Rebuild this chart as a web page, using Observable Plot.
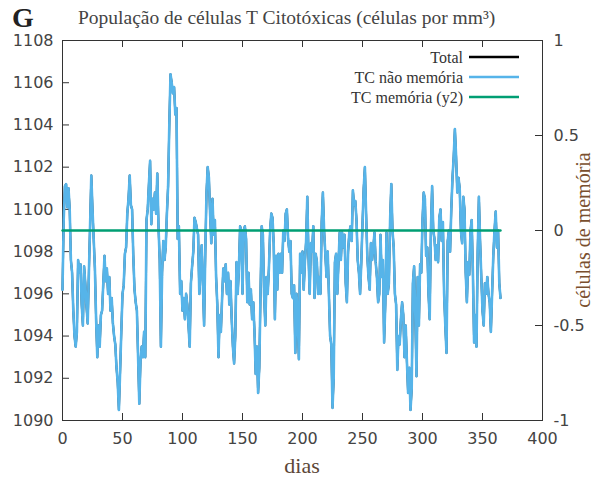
<!DOCTYPE html>
<html>
<head>
<meta charset="utf-8">
<script src="https://cdn.jsdelivr.net/npm/d3@7"></script>
<script src="https://cdn.jsdelivr.net/npm/@observablehq/plot@0.6"></script>
<style>
  html, body { margin: 0; padding: 0; background: #fff; }
</style>
</head>
<body>
<div id="chart"></div>
<script>
// ---- data ----
const panelLetter = "G";
const title = "População de células T Citotóxicas (células por mm³)";
const xLabel = "dias";
const y2Label = "células de memória";
const seriesNames = ["Total", "TC não memória", "TC memória (y2)"];
const seriesColors = ["#000000", "#56b4e9", "#009e73"];

// TC não memória: one value per day, days 0..365
const naoMemoria = [
1096.2,1099.5,1101.1,1101.2,1100.1,1101.0,1100.0,1097.6,1097.0,1095.2,
1094.0,1093.5,1094.2,1097.6,1097.0,1097.4,1095.5,1094.5,1097.3,1096.5,
1095.4,1094.6,1097.0,1099.3,1101.6,1100.0,1098.6,1097.2,1094.8,1093.0,
1094.5,1093.5,1095.0,1095.2,1096.5,1097.8,1096.6,1097.2,1096.0,1096.8,
1095.2,1095.8,1094.6,1094.0,1093.6,1092.5,1091.8,1090.5,1092.3,1094.2,
1096.0,1096.4,1097.9,1098.2,1099.8,1100.5,1101.6,1100.2,1100.0,1097.8,
1096.2,1095.6,1095.2,1093.0,1090.8,1092.8,1093.5,1093.0,1094.2,1093.0,
1099.5,1100.0,1101.2,1102.3,1099.3,1100.5,1100.0,1100.8,1099.8,1101.7,
1099.2,1097.6,1093.5,1097.0,1098.5,1097.6,1098.2,1099.8,1101.1,1104.0,
1106.4,1106.0,1105.5,1105.8,1104.5,1104.8,1098.6,1099.2,1096.0,1096.6,
1095.2,1095.8,1094.8,1096.0,1095.5,1094.5,1093.5,1096.5,1097.3,1098.0,
1099.6,1099.4,1099.1,1098.8,1096.0,1097.0,1098.3,1096.5,1094.5,1098.0,
1100.8,1102.0,1101.5,1099.8,1098.4,1100.5,1098.8,1099.5,1096.8,1095.5,
1093.0,1095.0,1094.2,1095.8,1097.2,1096.6,1097.4,1096.0,1097.0,1095.5,
1096.6,1094.8,1093.5,1092.7,1094.0,1097.5,1096.0,1097.2,1099.2,1099.0,
1096.0,1099.0,1099.2,1098.6,1095.6,1097.0,1095.5,1096.2,1094.8,1095.6,
1094.2,1092.2,1093.5,1091.3,1092.5,1096.0,1099.2,1098.8,1096.0,1094.5,
1096.8,1096.0,1097.2,1099.0,1099.8,1099.6,1098.4,1094.8,1097.8,1096.2,
1097.9,1097.0,1097.9,1097.0,1099.0,1098.5,1099.8,1100.0,1098.6,1098.0,
1098.5,1096.0,1095.8,1096.4,1093.2,1096.0,1095.0,1092.9,1097.9,1097.0,
1098.0,1096.2,1097.5,1098.5,1100.6,1097.8,1096.0,1098.4,1098.0,1099.2,
1095.8,1097.9,1097.5,1096.0,1096.8,1096.0,1099.4,1100.8,1099.0,1097.9,
1096.8,1098.0,1096.0,1094.0,1093.6,1090.6,1092.0,1097.5,1097.9,1096.0,
1097.5,1098.9,1097.6,1098.9,1098.2,1098.8,1096.5,1095.6,1098.0,1098.9,
1099.2,1098.5,1100.9,1100.2,1100.4,1099.5,1097.6,1097.0,1096.0,1097.5,
1099.3,1101.0,1102.0,1099.8,1097.8,1096.8,1096.2,1098.4,1097.6,1098.2,
1098.9,1097.5,1096.8,1095.6,1096.0,1098.8,1096.8,1097.6,1093.7,1095.5,
1098.9,1096.0,1096.5,1099.5,1101.2,1099.0,1098.2,1096.0,1095.5,1092.4,
1094.0,1093.6,1094.8,1095.6,1095.0,1093.0,1094.5,1092.8,1091.3,1092.5,
1090.5,1091.5,1096.5,1097.3,1095.0,1092.1,1096.8,1094.5,1097.4,1097.0,
1099.5,1100.8,1100.5,1097.8,1098.2,1096.0,1094.8,1099.0,1101.1,1099.0,
1098.6,1097.6,1098.3,1097.5,1099.6,1100.0,1098.5,1099.4,1096.0,1094.5,
1093.2,1098.5,1099.0,1098.0,1100.0,1101.5,1102.5,1103.8,1102.5,1100.8,
1101.5,1101.0,1099.0,1098.4,1100.6,1100.0,1097.0,1095.6,1097.5,1096.9,
1099.0,1099.5,1097.0,1093.7,1095.0,1093.5,1098.0,1100.6,1098.5,1096.8,
1095.2,1094.5,1096.5,1096.0,1096.8,1096.0,1095.6,1094.2,1096.0,1097.8,
1099.0,1099.9,1098.2,1099.0,1096.5,1095.8
];
// TC memória (right axis, y2): constant 0
const memoria = naoMemoria.map(() => 0);
const xTicks = [0, 50, 100, 150, 200, 250, 300, 350, 400];
const yTicks = [1090, 1092, 1094, 1096, 1098, 1100, 1102, 1104, 1106, 1108];
const y2Ticks = [-1, -0.5, 0, 0.5, 1];
const xDomain = [0, 400];
const yDomain = [1090, 1108];
const y2Domain = [-1, 1];

// ---- derived ----
const days = naoMemoria.map((_, i) => i);
const total = naoMemoria.map((v, i) => v + memoria[i]);
// map y2 values onto the left scale
const y2ToY = v => yDomain[0] + (v - y2Domain[0]) / (y2Domain[1] - y2Domain[0]) * (yDomain[1] - yDomain[0]);
const rows = days.map((d, i) => ({day: d, total: total[i], nao: naoMemoria[i], mem: y2ToY(memoria[i])}));

const W = 597, H = 479;
const mL = 62, mR = 55, mT = 40, mB = 59;
const fw = W - mL - mR, fh = H - mT - mB;
const tickLen = 7;

const chart = Plot.plot({
  width: W, height: H,
  marginLeft: mL, marginRight: mR, marginTop: mT, marginBottom: mB,
  style: {fontFamily: "DejaVu Sans, sans-serif", fontSize: "16px", color: "#444", background: "#fff"},
  x: {domain: xDomain, label: null},
  y: {domain: yDomain, label: null},
  marks: [
    Plot.frame({stroke: "#333", strokeWidth: 1}),
    // inward ticks
    Plot.tickX(xTicks, {x: d => d, insetTop: fh - tickLen, stroke: "#333"}),
    Plot.tickX(xTicks, {x: d => d, insetBottom: fh - tickLen, stroke: "#333"}),
    Plot.tickY(yTicks, {y: d => d, insetRight: fw - tickLen, stroke: "#333"}),
    Plot.tickY(y2Ticks, {y: d => y2ToY(d), insetLeft: fw - tickLen, stroke: "#333"}),
    // tick labels
    Plot.axisX(xTicks, {anchor: "bottom", tickSize: 0, tickPadding: 12, label: null, tickFormat: d => String(d), fill: "#444"}),
    Plot.axisY(yTicks, {anchor: "left", tickSize: 0, tickPadding: 9, label: null, tickFormat: d => String(d), fill: "#444"}),
    Plot.axisY(y2Ticks.map(y2ToY), {anchor: "right", tickSize: 0, tickPadding: 11, label: null,
      tickFormat: d => String(Math.round(((d - yDomain[0]) / (yDomain[1] - yDomain[0]) * (y2Domain[1] - y2Domain[0]) + y2Domain[0]) * 10) / 10), fill: "#444"}),
    // series
    Plot.line(rows, {x: "day", y: "total", stroke: seriesColors[0], strokeWidth: 2}),
    Plot.line(rows, {x: "day", y: "nao", stroke: seriesColors[1], strokeWidth: 2.6, strokeLinejoin: "round"}),
    Plot.line(rows, {x: "day", y: "mem", stroke: seriesColors[2], strokeWidth: 2.4})
  ]
});

const svg = d3.select(chart);
const serif = "'Liberation Serif', 'Times New Roman', serif";
svg.append("text").attr("x", 12).attr("y", 27).attr("text-anchor", "start").attr("font-family", serif)
  .attr("font-weight", "bold").attr("font-size", 28).attr("fill", "#222").text(panelLetter);
svg.append("text").attr("x", 78).attr("y", 24).attr("text-anchor", "start").attr("font-family", serif)
  .attr("font-size", 19.5).attr("fill", "#444").text(title);
svg.append("text").attr("x", mL + fw / 2).attr("y", 473).attr("text-anchor", "middle")
  .attr("font-family", serif).attr("font-size", 22).attr("fill", "#5b4636").text(xLabel);
svg.append("text").attr("transform", `translate(590,${mT + fh / 2}) rotate(-90)`)
  .attr("text-anchor", "middle").attr("font-family", serif).attr("font-size", 20)
  .attr("fill", "#7a4f2e").text(y2Label);

// legend
const lg = svg.append("g");
seriesNames.forEach((name, i) => {
  const yy = 57 + i * 20;
  lg.append("text").attr("x", 463).attr("y", yy).attr("dy", "0.35em").attr("text-anchor", "end")
    .attr("font-family", serif).attr("font-size", 16).attr("fill", "#333").text(name);
  lg.append("line").attr("x1", 469).attr("x2", 519).attr("y1", yy).attr("y2", yy)
    .attr("stroke", seriesColors[i]).attr("stroke-width", 2.5);
});

document.getElementById("chart").appendChild(chart);
</script>
</body>
</html>
